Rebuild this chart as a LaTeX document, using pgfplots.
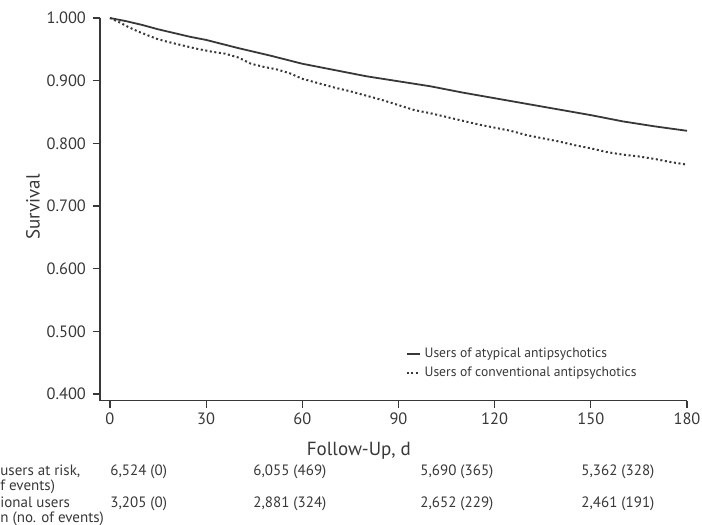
\documentclass[border=0pt]{standalone}
\usepackage{fontspec}
\setmainfont{PT Sans}
\usepackage{pgfplots}
\pgfplotsset{compat=1.18}
\definecolor{ink}{gray}{0.22}

\begin{document}
\begin{tikzpicture}
\useasboundingbox (0pt,0pt) rectangle (351pt,-262.5pt);
\begin{axis}[at={(50pt,-200.25pt)},anchor=south west,
 scale only axis,width=293.5pt,height=191.25pt,
 xmin=-3.1,xmax=180,ymin=0.3896,ymax=1,
 axis x line*=bottom,axis y line*=left,
 axis line style={ink,line width=0.6pt,-},
 xtick={0,30,60,90,120,150,180},
 ytick={0.4,0.5,0.6,0.7,0.8,0.9,1.0},
 yticklabel style={/pgf/number format/.cd,fixed,fixed zerofill,precision=3},
 /pgf/number format/assume math mode=true,
 tick align=outside,major tick length=3.5pt,
 tick style={ink,line width=0.6pt},
 tick label style={font=\fontsize{8.2}{9}\selectfont,text=ink},
 xticklabel style={yshift=1pt},
 xlabel={Follow-Up, d},ylabel={Survival},
 label style={font=\fontsize{9.5}{11}\selectfont,text=ink},
 xlabel style={at={(axis description cs:0.441,-0.143)},anchor=base},
 ylabel style={at={(axis description cs:-0.114,0.506)},anchor=center},
 legend style={at={(axis description cs:0.52,0.15)},anchor=north west,
   draw=none,fill=none,font=\fontsize{6.8}{9}\selectfont,text=ink,
   row sep=-0.8pt,inner sep=0pt},
 legend cell align=left,
 legend image code/.code={\draw[#1] (0pt,0pt) -- (6.5pt,0pt);}]
\addplot[ink,line width=0.9pt] coordinates {
 (0,1.000) (5,0.995) (10,0.989) (15,0.982) (20,0.976) (25,0.970)
 (30,0.965) (40,0.952) (50,0.940) (60,0.927) (70,0.917) (80,0.907)
 (90,0.899) (100,0.891) (110,0.881) (120,0.872) (130,0.863) (140,0.854)
 (150,0.845) (160,0.835) (170,0.827) (180,0.820)};
\addlegendentry{Users of atypical antipsychotics}
\addplot[ink,line width=1pt,dash pattern=on 1pt off 1.3pt] coordinates {
 (0,1.000) (3,0.993) (6,0.985) (9,0.978) (12,0.972) (15,0.966) (18,0.962)
 (22,0.957) (27,0.951) (32,0.946) (36,0.943) (40,0.937) (44,0.927)
 (48,0.922) (52,0.918) (56,0.912) (60,0.903) (65,0.896) (70,0.889)
 (75,0.883) (80,0.876) (85,0.869) (90,0.861) (95,0.853) (100,0.848)
 (105,0.842) (110,0.836) (115,0.830) (120,0.825) (125,0.820) (130,0.813)
 (135,0.808) (140,0.803) (145,0.797) (150,0.792) (155,0.786) (160,0.782)
 (165,0.779) (170,0.775) (175,0.770) (180,0.766)};
\addlegendentry{Users of conventional antipsychotics}
\end{axis}
\begin{scope}[x=0.5pt,y=-0.5pt,font=\fontsize{7.5}{9}\selectfont,text=ink]
\node[anchor=base west,inner sep=0pt] at (0,475) {users at risk,};
\node[anchor=base west,inner sep=0pt] at (0,490) {f events)};
\node[anchor=base west,inner sep=0pt] at (0,507) {ional users};
\node[anchor=base west,inner sep=0pt] at (0,522) {n (no. of events)};
\node[anchor=base west,inner sep=0pt] at (110,475) {6,524 (0)};
\node[anchor=base west,inner sep=0pt] at (253,475) {6,055 (469)};
\node[anchor=base west,inner sep=0pt] at (420,475) {5,690 (365)};
\node[anchor=base west,inner sep=0pt] at (581,475) {5,362 (328)};
\node[anchor=base west,inner sep=0pt] at (110,507) {3,205 (0)};
\node[anchor=base west,inner sep=0pt] at (253,507) {2,881 (324)};
\node[anchor=base west,inner sep=0pt] at (420,507) {2,652 (229)};
\node[anchor=base west,inner sep=0pt] at (581,507) {2,461 (191)};
\end{scope}
\end{tikzpicture}
\end{document}
